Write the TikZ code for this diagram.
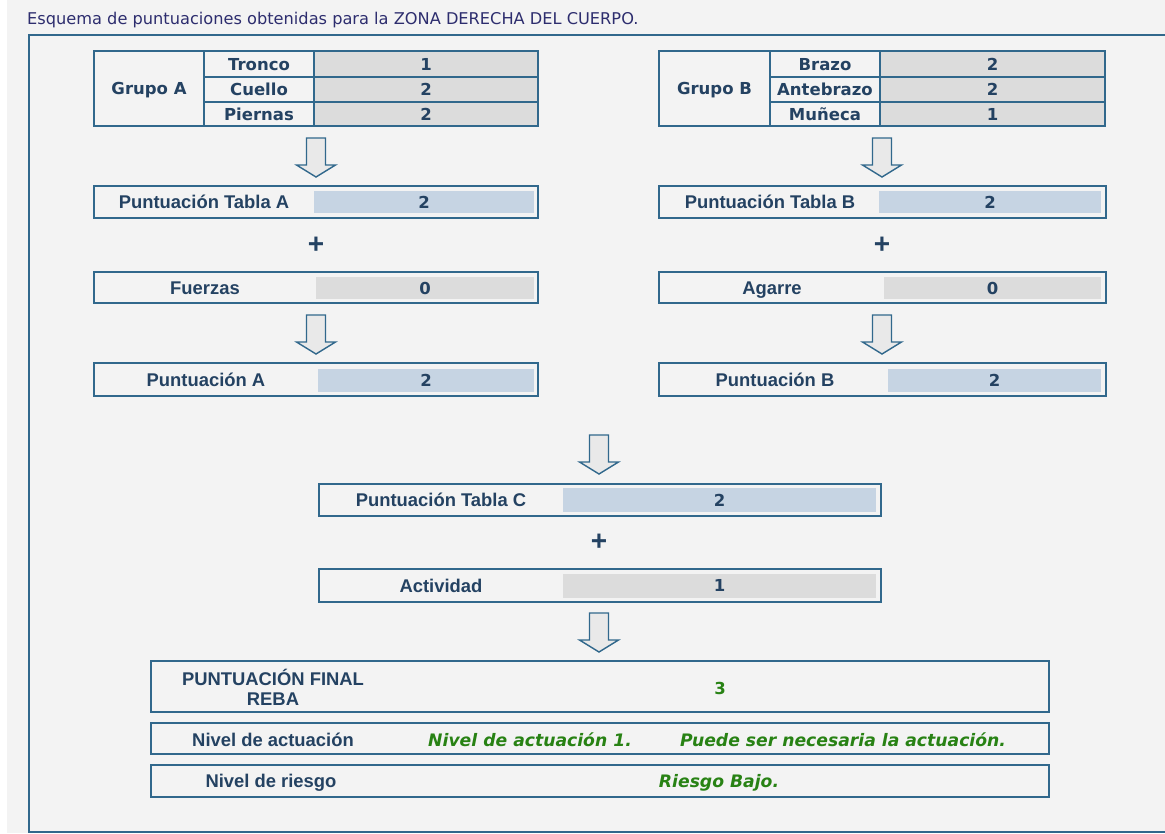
\documentclass[tikz,border=0pt]{standalone}
\usepackage{fontspec}
\setmainfont{Liberation Sans}
\newfontfamily\verdfont{DejaVu Sans}
\usetikzlibrary{positioning}

\definecolor{bordercol}{RGB}{49,104,140}
\definecolor{txtcol}{RGB}{36,66,98}
\definecolor{titlecol}{RGB}{45,45,110}
\definecolor{bgcol}{RGB}{243,243,243}
\definecolor{valgray}{RGB}{220,220,220}
\definecolor{valblue}{RGB}{198,212,227}
\definecolor{arrowfill}{RGB}{233,233,233}
\definecolor{greencol}{RGB}{40,130,20}

\begin{document}
\begin{tikzpicture}[x=1pt, y=-1pt,
    cell/.style = {draw=bordercol, line width=1.8pt, inner sep=0pt, text=txtcol, text height=12pt, text depth=0pt, font=\verdfont\bfseries\fontsize{16.5}{18}\selectfont},
    valcell/.style = {cell, fill=valgray},
    scorebox/.style = {draw=bordercol, line width=1.8pt, inner sep=0pt},
    scorelabel/.style = {text=txtcol, inner sep=0pt, text height=13.2pt, text depth=0pt, font=\bfseries\fontsize{18.4}{20}\selectfont},
    scoreval/.style = {fill=#1, inner sep=0pt, text=txtcol, text height=12pt, text depth=0pt, font=\verdfont\bfseries\fontsize{16.5}{18}\selectfont},
    finallabel/.style = {text=txtcol, inner sep=0pt, align=center, font=\bfseries\fontsize{18.4}{20}\selectfont},
    finalval/.style = {text=greencol, inner sep=0pt, text height=12.5pt, text depth=0pt, font=\verdfont\bfseries\itshape\fontsize{17.2}{18}\selectfont},
    plus/.style = {text=txtcol, inner sep=0pt, font=\bfseries\fontsize{28}{28}\selectfont},
    downarrow/.pic = {\draw[draw=bordercol, fill=arrowfill, line width=1.4pt]
      (-9.5,0) -- (9.5,0) -- (9.5,27) -- (19.5,27) -- (0,39) -- (-19.5,27) -- (-9.5,27) -- cycle;}]

     \useasboundingbox (0,0) rectangle (1165,833);
     \fill[bgcol] (0,0) rectangle (1165,833);
     \fill[white] (0,0) rectangle (7,833);
     \draw[bordercol, line width=2pt] (1165,35) -- (29,35) -- (29,832) -- (1165,832);

     \node[anchor=base west, inner sep=0pt, text=titlecol, font=\verdfont\fontsize{16.2}{18}\selectfont] (title) at (27,24)
       {Esquema de puntuaciones obtenidas para la ZONA DERECHA DEL CUERPO.};

     \node[cell, minimum width=110pt, minimum height=75pt] (grA) at (149,88.5) {Grupo A};
     \foreach \lab/\val/\yc/\h [count=\i] in {Tronco/1/64/26pt, Cuello/2/89.5/25pt, Piernas/2/114/24pt} {
       \node[cell, minimum width=110pt, minimum height=\h] (labA\i) at (259,\yc) {\lab};
       \node[valcell, minimum width=224pt, minimum height=\h] (valA\i) at (426,\yc) {\val};
     }

     \node[cell, minimum width=111pt, minimum height=75pt] (grB) at (714.5,88.5) {Grupo B};
     \foreach \lab/\val/\yc/\h [count=\i] in {Brazo/2/64/26pt, Antebrazo/2/89.5/25pt, Muñeca/1/114/24pt} {
       \node[cell, minimum width=110pt, minimum height=\h] (labB\i) at (825,\yc) {\lab};
       \node[valcell, minimum width=225pt, minimum height=\h] (valB\i) at (992.5,\yc) {\val};
     }

     \pic (arA1) at (316,138) {downarrow};
     \pic (arB1) at (882,138) {downarrow};

     \node[scorebox, minimum width=444pt, minimum height=32pt] (ptA) at (316,202) {};
     \node[scoreval=valblue, minimum width=220pt, minimum height=22pt] (ptAv) at (424,202) {2};
     \node[scorelabel] (ptAl) at (204,202) {Puntuación Tabla A};

     \node[scorebox, minimum width=447pt, minimum height=32pt] (ptB) at (882.5,202) {};
     \node[scoreval=valblue, minimum width=222pt, minimum height=22pt] (ptBv) at (990,202) {2};
     \node[scorelabel] (ptBl) at (770,202) {Puntuación Tabla B};

     \node[plus] (plA) at (316,245) {+};
     \node[plus] (plB) at (882,245) {+};

     \node[scorebox, minimum width=444pt, minimum height=31pt] (fz) at (316,287.5) {};
     \node[scoreval=valgray, minimum width=218pt, minimum height=22pt] (fzv) at (425,288) {0};
     \node[scorelabel] (fzl) at (205,288) {Fuerzas};

     \node[scorebox, minimum width=447pt, minimum height=31pt] (ag) at (882.5,287.5) {};
     \node[scoreval=valgray, minimum width=217pt, minimum height=22pt] (agv) at (992.5,288) {0};
     \node[scorelabel] (agl) at (772,288) {Agarre};

     \pic (arA2) at (316,315) {downarrow};
     \pic (arB2) at (882,315) {downarrow};

     \node[scorebox, minimum width=444pt, minimum height=33pt] (pA) at (316,379.5) {};
     \node[scoreval=valblue, minimum width=216pt, minimum height=23pt] (pAv) at (426,380) {2};
     \node[scorelabel] (pAl) at (206,380) {Puntuación A};

     \node[scorebox, minimum width=447pt, minimum height=33pt] (pB) at (882.5,379.5) {};
     \node[scoreval=valblue, minimum width=213pt, minimum height=23pt] (pBv) at (994.5,380) {2};
     \node[scorelabel] (pBl) at (775,380) {Puntuación B};

     \pic (arC1) at (599,435) {downarrow};

     \node[scorebox, minimum width=562pt, minimum height=32pt] (ptC) at (600,500) {};
     \node[scoreval=valblue, minimum width=313pt, minimum height=24pt] (ptCv) at (719.5,500) {2};
     \node[scorelabel] (ptCl) at (441,500) {Puntuación Tabla C};

     \node[plus] (plC) at (599,542) {+};

     \node[scorebox, minimum width=562pt, minimum height=33pt] (act) at (600,585.5) {};
     \node[scoreval=valgray, minimum width=313pt, minimum height=24pt] (actv) at (719.5,585.5) {1};
     \node[scorelabel] (actl) at (441,585.5) {Actividad};

     \pic (arC2) at (599,613) {downarrow};

     \node[scorebox, minimum width=898pt, minimum height=51pt] (fin) at (600,686.5) {};
     \node[finallabel] (finl) at (273,687) {PUNTUACIÓN FINAL\\REBA};
     \node[finalval, font=\verdfont\bfseries\fontsize{16.5}{18}\selectfont] (finv) at (720,688) {3};

     \node[scorebox, minimum width=898pt, minimum height=31pt] (niv) at (600,738.5) {};
     \node[scorelabel] (nivl) at (273,740) {Nivel de actuación};
     \node[finalval] (nivv) at (530,740) {Nivel de actuación 1.};
     \node[finalval] (nivd) at (843,740) {Puede ser necesaria la actuación.};

     \node[scorebox, minimum width=898pt, minimum height=32pt] (rsg) at (600,781) {};
     \node[scorelabel] (rsgl) at (271,781) {Nivel de riesgo};
     \node[finalval] (rsgv) at (719,781) {Riesgo Bajo.};
\end{tikzpicture}
\end{document}
